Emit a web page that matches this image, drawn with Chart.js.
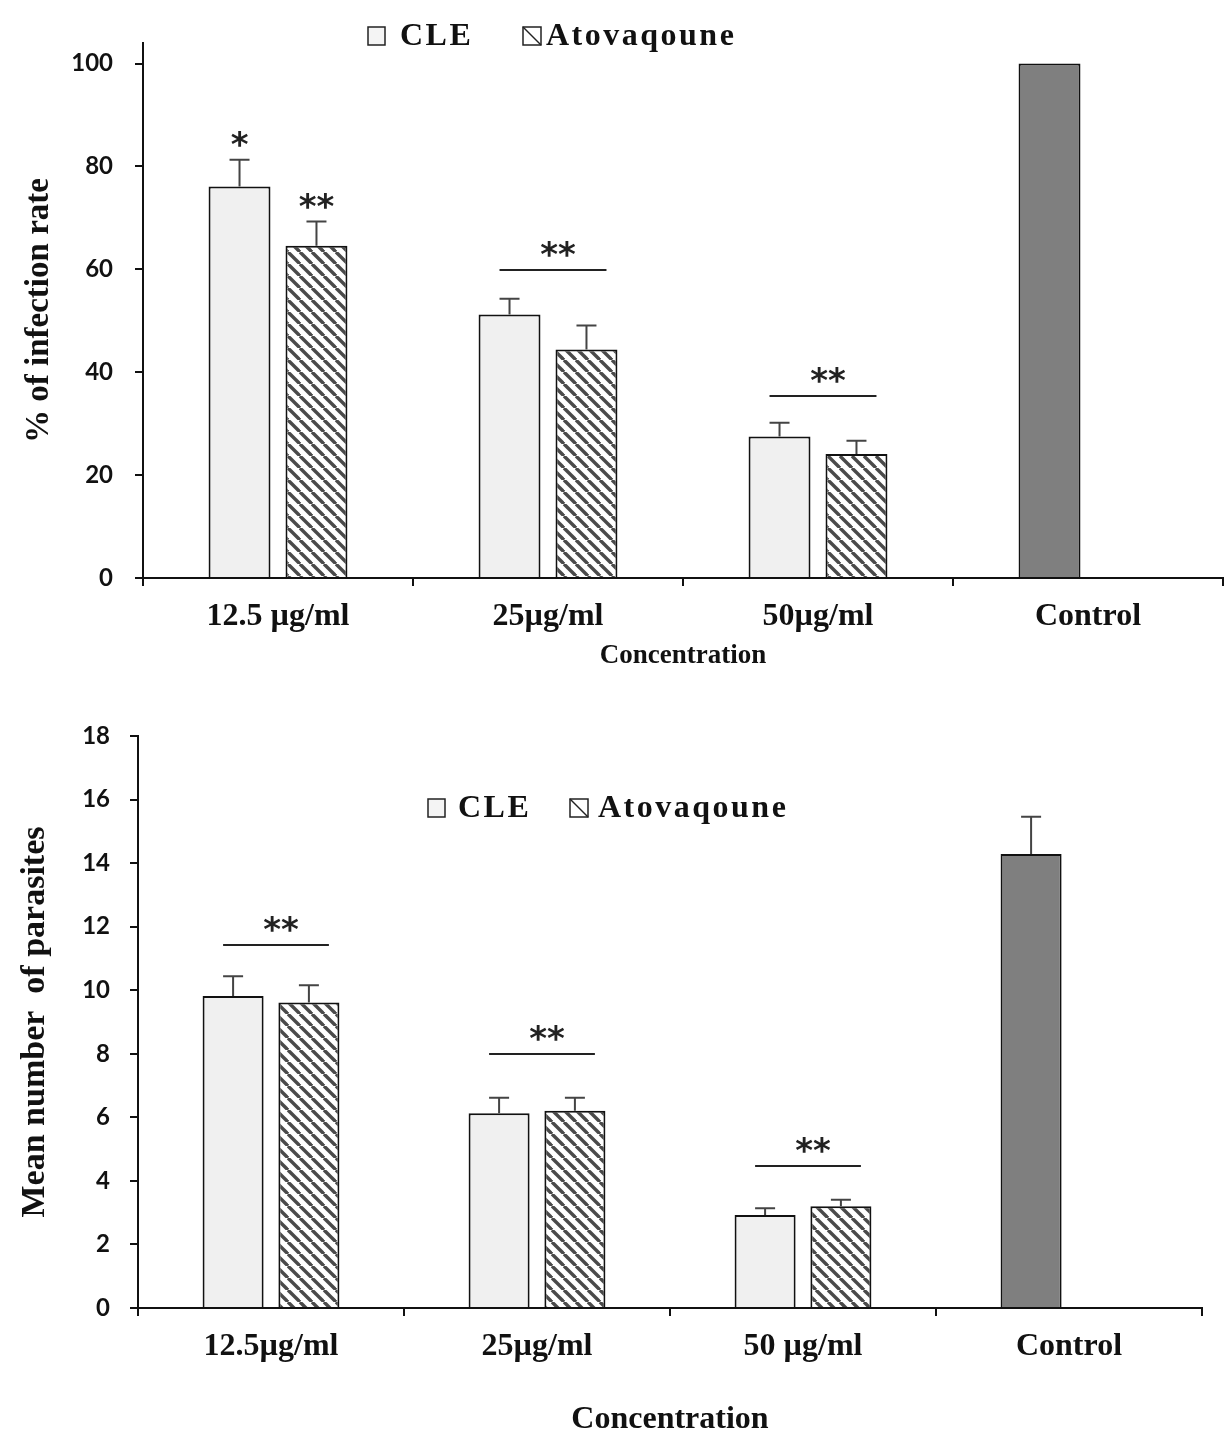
<!DOCTYPE html>
<html>
<head>
<meta charset="utf-8">
<script src="https://cdn.jsdelivr.net/npm/chart.js@4.4.1/dist/chart.umd.min.js"></script>
<style>
  body { margin: 0; background: #fff; }
  #wrap { position: relative; width: 1232px; height: 1451px; }
  canvas { position: absolute; left: 0; }
</style>
</head>
<body>
<div id="wrap">
  <canvas id="infectionChart" width="1232" height="690" style="top:0"></canvas>
  <canvas id="parasiteChart" width="1232" height="761" style="top:690px"></canvas>
</div>
<script>
// top panel: % of infection rate
const infCategories = ['12.5 µg/ml', '25µg/ml', '50µg/ml', 'Control'];
const infCLE = [76.1, 51.2, 27.5, 100];
const infCLEErr = [5.2, 3.1, 2.7, 0];
const infAto = [64.6, 44.4, 24.1, null];
const infAtoErr = [4.7, 4.7, 2.6, null];
const infTicks = [0, 20, 40, 60, 80, 100];
const infStarsCLE = ['*', '', '', ''];
const infStarsAto = ['**', '', '', ''];
const infGroupStars = ['', '**', '**', ''];
const infBracket = [null, 59.8, 35.3, null];

// bottom panel: mean number of parasites
const parCategories = ['12.5µg/ml', '25µg/ml', '50 µg/ml', 'Control'];
const parCLE = [9.82, 6.13, 2.93, 14.29];
const parCLEErr = [0.62, 0.49, 0.21, 1.17];
const parAto = [9.61, 6.21, 3.20, null];
const parAtoErr = [0.55, 0.41, 0.21, null];
const parTicks = [0, 2, 4, 6, 8, 10, 12, 14, 16, 18];
const parStarsCLE = ['', '', '', ''];
const parStarsAto = ['', '', '', ''];
const parGroupStars = ['**', '**', '**', ''];
const parBracket = [11.42, 8.0, 4.46, null];

const SERIF = '"Liberation Serif", "Times New Roman", serif';
const SANS = 'Lato, "Liberation Sans", sans-serif';
const STAR_FONT = 'bold 34px "DejaVu Sans", sans-serif';

function hatchPattern(ctx) {
    let c = document.createElement('canvas');
    c.width = 12; c.height = 12;
    let g = c.getContext('2d');
    g.fillStyle = '#ffffff';
    g.fillRect(0, 0, 12, 12);
    g.strokeStyle = '#4a4a4a';
    g.lineWidth = 3.4;
    for (const o of [-12, 0, 12]) {
        g.beginPath();
        g.moveTo(o, 0);
        g.lineTo(o + 12, 12);
        g.stroke();
    }
    return ctx.createPattern(c, 'repeat');
}

// star centre sits about 0.55em above the baseline
function drawStars(ctx, text, x, yCentre) {
    ctx.fillText(text, x, yCentre + 34 * 0.55);
}

// error bars, significance marks and the legend
const annotations = {
    id: 'annotations',
    afterDatasetsDraw(chart, args, opts) {
        const ctx = chart.ctx;
        const y = chart.scales.y;
        const ds = chart.data.datasets;
        const m0 = chart.getDatasetMeta(0).data;
        const m1 = chart.getDatasetMeta(1).data;
        ctx.save();

        ctx.strokeStyle = '#444';
        ctx.lineWidth = 2;
        [0, 1].forEach(d => {
            const meta = d === 0 ? m0 : m1;
            ds[d].data.forEach((v, i) => {
                const e = ds[d].err[i];
                if (v == null || !e) return;
                const top = y.getPixelForValue(v + e);
                const b = meta[i];
                ctx.beginPath();
                ctx.moveTo(b.x, b.y);
                ctx.lineTo(b.x, top);
                ctx.moveTo(b.x - 10, top);
                ctx.lineTo(b.x + 10, top);
                ctx.stroke();
            });
        });

        ctx.fillStyle = '#222';
        ctx.font = STAR_FONT;
        ctx.textAlign = 'center';
        ctx.textBaseline = 'alphabetic';
        [0, 1].forEach(d => {
            const meta = d === 0 ? m0 : m1;
            ds[d].stars.forEach((s, i) => {
                if (!s) return;
                const top = y.getPixelForValue(ds[d].data[i] + ds[d].err[i]);
                drawStars(ctx, s, meta[i].x, top - 22);
            });
        });

        ctx.strokeStyle = '#222';
        opts.bracket.forEach((v, i) => {
            if (v == null) return;
            const py = Math.round(y.getPixelForValue(v));
            const x0 = m0[i].x - 10, x1 = m1[i].x + 20;
            ctx.beginPath();
            ctx.moveTo(x0, py);
            ctx.lineTo(x1, py);
            ctx.stroke();
            drawStars(ctx, opts.groupStars[i], (x0 + x1) / 2 + 5, py - 23);
        });

        // legend
        const L = opts.legend;
        ctx.lineWidth = 1.5;
        ctx.strokeStyle = '#222';
        ctx.fillStyle = '#f4f4f4';
        ctx.fillRect(L.x, L.y - 9, 17, 18);
        ctx.strokeRect(L.x, L.y - 9, 17, 18);
        ctx.fillStyle = '#fff';
        ctx.fillRect(L.x + L.box2, L.y - 9, 18, 18);
        ctx.strokeRect(L.x + L.box2, L.y - 9, 18, 18);
        ctx.beginPath();
        ctx.moveTo(L.x + L.box2, L.y - 9);
        ctx.lineTo(L.x + L.box2 + 18, L.y + 9);
        ctx.stroke();
        ctx.fillStyle = '#111';
        ctx.font = 'bold 32px ' + SERIF;
        ctx.textAlign = 'left';
        ctx.textBaseline = 'middle';
        ctx.letterSpacing = '2.5px';
        ctx.fillText(ds[0].label, L.x + L.text1, L.y + 1);
        ctx.fillText(ds[1].label, L.x + L.text2, L.y + 1);
        ctx.restore();
    }
};

function makeChart(id, cfg) {
    const ctx = document.getElementById(id).getContext('2d');
    return new Chart(ctx, {
        type: 'bar',
        data: {
            labels: cfg.labels,
            datasets: [{
                label: 'CLE',
                data: cfg.cle,
                err: cfg.cleErr,
                stars: cfg.starsCLE,
                backgroundColor: cfg.cle.map((v, i) => i === 3 ? '#7f7f7f' : '#f0f0f0'),
                borderColor: '#111',
                borderWidth: 2
            }, {
                label: 'Atovaqoune',
                data: cfg.ato,
                err: cfg.atoErr,
                stars: cfg.starsAto,
                backgroundColor: hatchPattern(ctx),
                borderColor: '#111',
                borderWidth: 2
            }]
        },
        options: {
            responsive: false,
            animation: false,
            categoryPercentage: 0.57,
            barPercentage: 0.805,
            layout: { padding: { left: 0, right: cfg.padRight, top: cfg.padTop, bottom: 0 } },
            scales: {
                x: {
                    afterFit: s => { s.height = cfg.xHeight; },
                    grid: { drawOnChartArea: false, drawTicks: true, tickLength: 8, color: '#111', lineWidth: 2 },
                    border: { display: true, color: '#111', width: 2 },
                    ticks: { color: '#111', padding: cfg.xTickPad, font: { family: SERIF, size: cfg.xTickSize, weight: 'bold' } },
                    title: {
                        display: true,
                        text: 'Concentration',
                        color: '#111',
                        padding: { top: 0, bottom: cfg.xTitlePad },
                        font: { family: SERIF, size: cfg.xTitleSize, weight: 'bold' }
                    }
                },
                y: {
                    min: 0,
                    max: cfg.yMax,
                    afterFit: s => { s.width = cfg.yWidth; },
                    afterBuildTicks: s => { s.ticks = cfg.ticks.map(v => ({ value: v })); },
                    grid: { drawOnChartArea: false, drawTicks: true, tickLength: 8, color: '#111', lineWidth: 2 },
                    border: { display: true, color: '#111', width: 2 },
                    ticks: { color: '#111', padding: cfg.yTickPad, font: { family: SANS, size: 24, weight: 'bold' } },
                    title: {
                        display: true,
                        text: cfg.yTitle,
                        color: '#111',
                        padding: { top: cfg.yTitlePad, bottom: 0 },
                        font: { family: SERIF, size: cfg.yTitleSize, weight: 'bold' }
                    }
                }
            },
            plugins: {
                legend: { display: false },
                tooltip: { enabled: false },
                annotations: {
                    bracket: cfg.bracket,
                    groupStars: cfg.groupStars,
                    legend: cfg.legend
                }
            }
        },
        plugins: [annotations]
    });
}

makeChart('infectionChart', {
    labels: infCategories,
    cle: infCLE, cleErr: infCLEErr,
    ato: infAto, atoErr: infAtoErr,
    starsCLE: infStarsCLE, starsAto: infStarsAto,
    groupStars: infGroupStars, bracket: infBracket,
    ticks: infTicks, yMax: 104,
    yTitle: '% of infection rate',
    padTop: 43, padRight: 9, xHeight: 112, yWidth: 143,
    xTickPad: 12, xTickSize: 32, xTitlePad: 18, xTitleSize: 27,
    yTickPad: 22, yTitlePad: 20, yTitleSize: 33,
    legend: { x: 368, y: 36, text1: 32, box2: 155, text2: 178 }
});

makeChart('parasiteChart', {
    labels: parCategories,
    cle: parCLE, cleErr: parCLEErr,
    ato: parAto, atoErr: parAtoErr,
    starsCLE: parStarsCLE, starsAto: parStarsAto,
    groupStars: parGroupStars, bracket: parBracket,
    ticks: parTicks, yMax: 18,
    yTitle: 'Mean number  of parasites',
    padTop: 46, padRight: 30, xHeight: 143, yWidth: 138,
    xTickPad: 12, xTickSize: 32, xTitlePad: 12, xTitleSize: 32,
    yTickPad: 20, yTitlePad: 15, yTitleSize: 34,
    legend: { x: 428, y: 118, text1: 30, box2: 142, text2: 170 }
});
</script>
</body>
</html>
